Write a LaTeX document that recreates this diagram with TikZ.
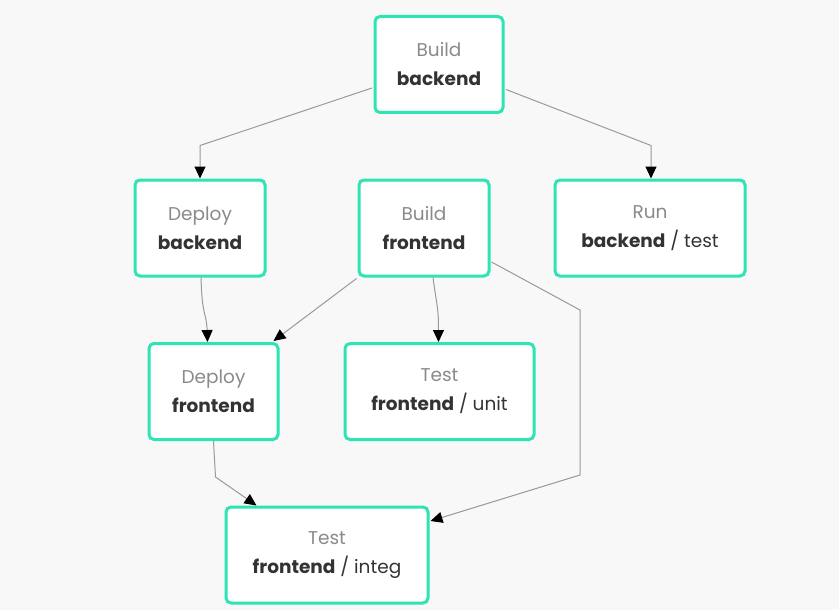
\documentclass[tikz,border=0pt]{standalone}
\usepackage{fontspec}
\setmainfont{Poppins}
\usetikzlibrary{arrows.meta,calc}
\definecolor{bgc}{HTML}{F8F8F8}
\definecolor{boxline}{HTML}{2EE3B4}
\definecolor{toptext}{HTML}{8A8A8A}
\definecolor{maintext}{HTML}{333333}
\definecolor{edgec}{HTML}{9A9A9A}
\tikzset{
  job/.style={draw=boxline, line width=3pt, fill=white, rounded corners=5pt,
    minimum height=96pt, align=center, inner sep=0pt,
    font=\fontsize{18.5}{29}\selectfont},
  edge/.style={draw=edgec, line width=1pt,
    -{Triangle[length=12pt,width=11pt,fill=black,color=black]}},
}
\newcommand{\stage}[2]{{\color{toptext}#1}\\{\color{maintext}#2}}
\begin{document}
\begin{tikzpicture}[x=1pt,y=-1pt]
  \fill[bgc] (0,0) rectangle (839,610);
  \useasboundingbox (0,0) rectangle (839,610);

  \node[job, minimum width=128pt] (bb) at (439,64.5) {\stage{Build}{\textbf{backend}}};
  \node[job, minimum width=130pt] (db) at (200,228) {\stage{Deploy}{\textbf{backend}}};
  \node[job, minimum width=130pt] (bf) at (424,228) {\stage{Build}{\textbf{frontend}}};
  \node[job, minimum width=190pt] (rb) at (650,228) {\stage{Run}{\textbf{backend} / test}};
  \node[job, minimum width=129pt] (df) at (213.5,391.5) {\stage{Deploy}{\textbf{frontend}}};
  \node[job, minimum width=189pt] (tu) at (439.5,391.5) {\stage{Test}{\textbf{frontend} / unit}};
  \node[job, minimum width=202pt] (ti) at (327,555) {\stage{Test}{\textbf{frontend} / integ}};

  \draw[edge] ($(bb.west)+(-1.5,23.5)$) -- ($(db.north)+(0,-33)$) -- (db.north);
  \draw[edge] ($(bb.east)+(1.5,25)$) -- ($(rb.north)+(1,-33)$) -- ($(rb.north)+(1,0)$);
  \draw[edge] ($(db.south)+(1,0)$) .. controls ($(db.south)+(2,40)$) and ($(df.north)+(-7,-30)$) .. ($(df.north)+(-6,0)$);
  \draw[edge] ($(bf.south west)+(-1,1)$) -- ($(df.north east)+(-6,-1)$);
  \draw[edge] ($(bf.south)+(9,0)$) .. controls ($(bf.south)+(13,30)$) and ($(tu.north)+(-1,-35)$) .. ($(tu.north)+(-1,0)$);
  \draw[edge] ($(bf.east)+(1,34)$) -- (580,310) -- (580,475) -- ($(ti.east)+(1,-34)$);
  \draw[edge] ($(df.south)+(0,0)$) -- ($(df.south)+(2,36)$) -- ($(ti.north west)+(32,0)$);
\end{tikzpicture}
\end{document}
